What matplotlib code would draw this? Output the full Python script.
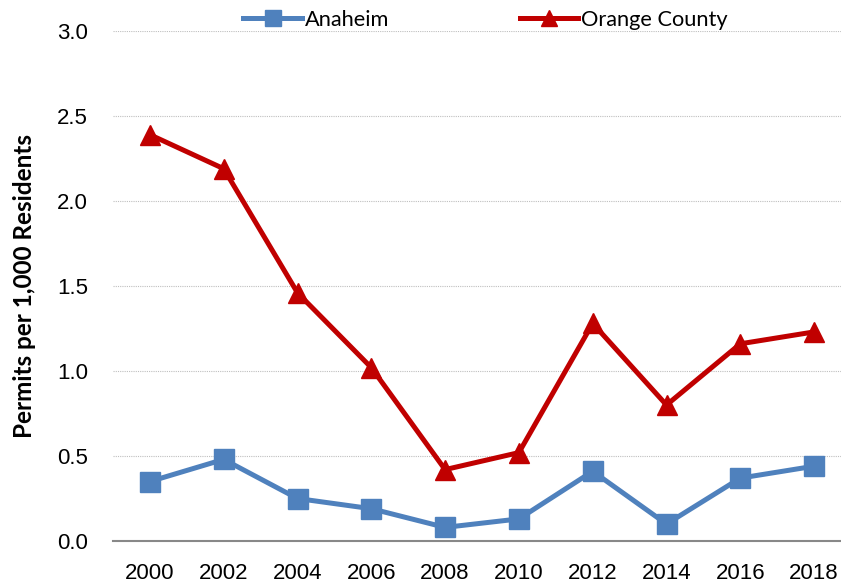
import matplotlib
matplotlib.use("Agg")
import matplotlib.pyplot as plt

years = ["2000", "2002", "2004", "2006", "2008", "2010", "2012", "2014", "2016", "2018"]
anaheim = [0.35, 0.48, 0.25, 0.19, 0.08, 0.13, 0.41, 0.10, 0.37, 0.44]
orange_county = [2.39, 2.19, 1.46, 1.02, 0.42, 0.52, 1.28, 0.80, 1.16, 1.23]

fig = plt.figure(figsize=(8.41, 5.85), dpi=100)
# plot area runs slightly past the right edge, like the original export
ax = fig.add_axes([113 / 841, 44 / 585, 738 / 841, 510 / 585])

x = list(range(len(years)))
ax.plot(x, anaheim, color="#4F81BD", lw=3.6, marker="s", ms=14.5, label="Anaheim")
ax.plot(x, orange_county, color="#C00000", lw=3.6, marker="^", ms=15, label="Orange County")

ax.set_xlim(-0.5, len(years) - 0.5)
ax.set_ylim(0, 3.0)
ax.set_yticks([0, 0.5, 1.0, 1.5, 2.0, 2.5, 3.0])
ax.set_yticklabels(["0.0", "0.5", "1.0", "1.5", "2.0", "2.5", "3.0"])
ax.set_xticks(x)
ax.set_xticklabels(years)
ax.tick_params(axis="x", length=0, labelsize=16, pad=16)
ax.tick_params(axis="y", length=0, labelsize=16, pad=18)
for lab in ax.get_xticklabels() + ax.get_yticklabels():
    lab.set_family("Liberation Sans")

ax.grid(axis="y", color="#BFBFBF", ls=(0, (1, 1)), lw=0.8)
ax.set_axisbelow(True)
for s in ["top", "right", "left"]:
    ax.spines[s].set_visible(False)
ax.spines["bottom"].set_color("#888888")
ax.spines["bottom"].set_linewidth(1.5)

ax.set_ylabel("Permits per 1,000 Residents", family="Lato", fontweight="bold",
              fontsize=17.5, labelpad=15)

leg = ax.legend(loc="lower center", bbox_to_anchor=(0.505, 0.985), ncol=2, frameon=False,
                prop={"family": "Lato", "size": 15.7}, handlelength=2.66, columnspacing=6.0,
                handletextpad=0.15, borderaxespad=0, markerscale=0.75)

fig.savefig("out.png", dpi=100)
